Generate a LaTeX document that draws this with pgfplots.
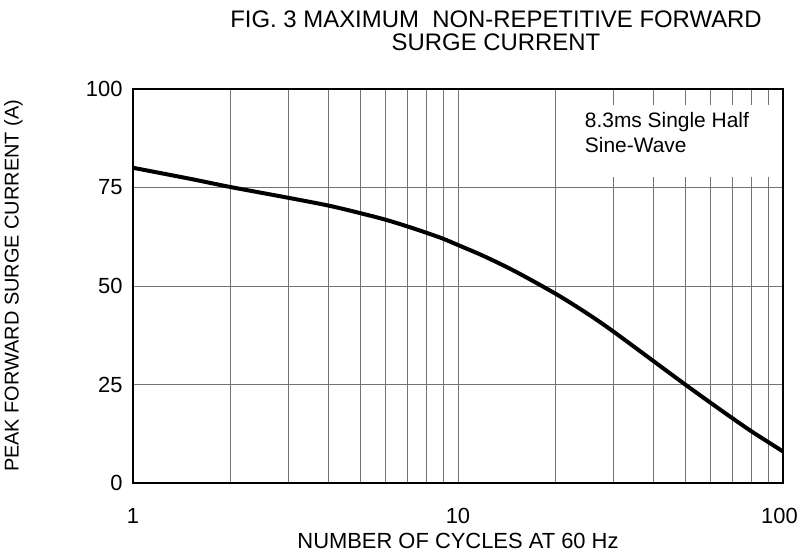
\documentclass[border=0pt]{standalone}
\usepackage{fontspec}
\setmainfont{Liberation Sans}
\usepackage{pgfplots}
\pgfplotsset{compat=1.18}
\pgfplotstableread{
x y
1 80
1.5 77.2
2 75.1
3 72.4
4 70.4
5 68.5
6 66.8
7 65.1
8 63.5
9 62.0
10 60.4
12 57.6
15 53.7
20 48.0
25 43.0
30 38.5
40 30.9
50 25.0
60 20.3
70 16.4
80 13.1
90 10.4
100 8.0
}\surge
\begin{document}
\begin{tikzpicture}[x=1bp,y=1bp]
\begin{axis}[
  at={(0,0)}, anchor=south west,
  scale only axis, width=650bp, height=394bp,
  xmode=log, xmin=1, xmax=100, ymin=0, ymax=100,
  ytick={0,25,50,75,100},
  xtick={1,10,100}, xticklabels={1,10,{\kern-7bp 100}},
  minor xtick={2,3,4,5,6,7,8,9,20,30,40,50,60,70,80,90},
  grid=both,
  major grid style={color=black!55, line width=0.9bp},
  minor grid style={color=black!55, line width=0.9bp},
  major tick length=0pt, minor tick length=0pt,
  axis line style={black, line width=1.2bp},
  /pgf/number format/assume math mode=true,
  tick label style={font=\fontsize{22}{26}\selectfont},
  yticklabel style={xshift=-7bp},
  xticklabel style={yshift=-22bp},
  every axis y label/.style={at={(axis description cs:-0.184,0.5)}, rotate=90, anchor=center, font=\fontsize{20}{24}\selectfont},
  every axis x label/.style={at={(axis description cs:0.5,0)}, anchor=center, yshift=-58bp, font=\fontsize{22}{26}\selectfont},
  xlabel={NUMBER OF CYCLES AT 60 Hz},
  ylabel={PEAK FORWARD SURGE CURRENT (A)},
  title style={at={(axis description cs:0.5585,1)}, anchor=center, yshift=52bp, align=center, font=\fontsize{24}{23}\selectfont},
  title={FIG. 3 MAXIMUM\ \ NON-REPETITIVE FORWARD\\SURGE CURRENT},
]
\addplot[black, line width=4bp, smooth, tension=0.5, line join=round] table[x=x,y=y] {\surge};
\fill[white] (rel axis cs:0.688,0.777) rectangle (rel axis cs:0.997,0.959);
\node[anchor=base west, inner sep=0pt, font=\fontsize{21}{25}\selectfont] at (rel axis cs:0.695,0.902) {8.3ms Single Half};
\node[anchor=base west, inner sep=0pt, font=\fontsize{21}{25}\selectfont] at (rel axis cs:0.695,0.840) {Sine-Wave};
\end{axis}
\pgfresetboundingbox
\path[use as bounding box] (-133bp,-74bp) rectangle (665bp,483bp);
\end{tikzpicture}
\end{document}
